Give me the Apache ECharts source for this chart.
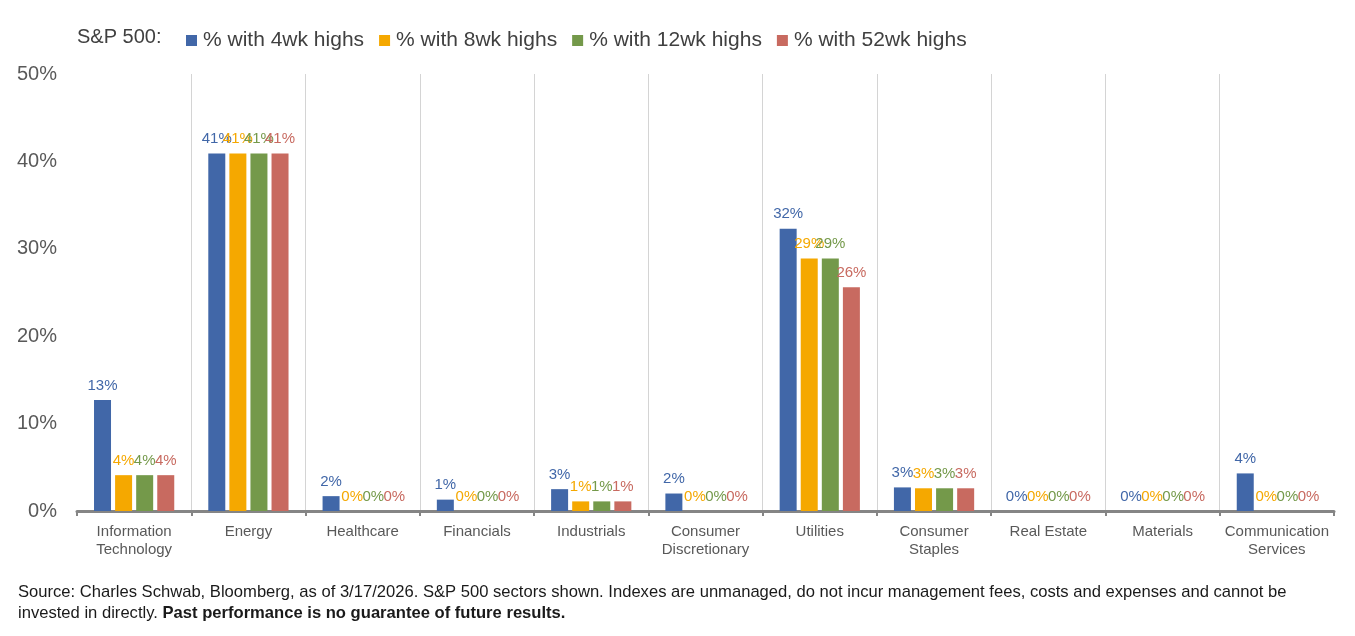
<!DOCTYPE html>
<html>
<head>
<meta charset="utf-8">
<title>S&P 500 sector highs</title>
<script src="https://cdn.jsdelivr.net/npm/echarts@6/dist/echarts.min.js"></script>
<style>
  html, body { margin: 0; padding: 0; background: #fff; }
  #main { width: 1355px; height: 636px; }
</style>
</head>
<body>
<div id="main"></div>
<script>
// sectors on the x axis
var sectors = ['Information\nTechnology', 'Energy', 'Healthcare', 'Financials', 'Industrials',
  'Consumer\nDiscretionary', 'Utilities', 'Consumer\nStaples', 'Real Estate', 'Materials',
  'Communication\nServices'];

// % of members at new highs
var highs4wk  = [12.7, 40.9, 1.7, 1.3, 2.5, 2.0, 32.3, 2.7, 0, 0, 4.3];
var highs8wk  = [4.1, 40.9, 0, 0, 1.1, 0, 28.9, 2.6, 0, 0, 0];
var highs12wk = [4.1, 40.9, 0, 0, 1.1, 0, 28.9, 2.6, 0, 0, 0];
var highs52wk = [4.1, 40.9, 0, 0, 1.1, 0, 25.6, 2.6, 0, 0, 0];

var seriesNames = ['% with 4wk highs', '% with 8wk highs', '% with 12wk highs', '% with 52wk highs'];
var colors = ['#4167a8', '#f5a800', '#74994a', '#c86a60'];

var chart = echarts.init(document.getElementById('main'));

function makeSeries(name, data, color) {
  return {
    name: name,
    type: 'bar',
    data: data,
    barWidth: 17,
    barGap: '24%',
    itemStyle: { color: color },
    label: {
      show: true,
      position: 'top',
      distance: 7,
      color: color,
      fontSize: 15,
      fontFamily: 'Liberation Sans',
      formatter: function (p) { return Math.round(p.value) + '%'; }
    }
  };
}

chart.setOption({
  animation: false,
  color: colors,
  textStyle: { fontFamily: 'Liberation Sans' },
  grid: { left: 77, right: 21, top: 74, bottom: 125, containLabel: false },
  legend: {
    data: seriesNames,
    left: 181,
    top: 25,
    icon: 'rect',
    itemWidth: 11,
    itemHeight: 11,
    itemGap: 15,
    textStyle: { fontSize: 21, color: '#404040', padding: [0, 0, 0, 1] }
  },
  graphic: [
    { type: 'text', left: 77, top: 27, style: { text: 'S&P 500:', fontSize: 20, fill: '#404040', fontFamily: 'Liberation Sans' } },
    {
      type: 'text', left: 18, top: 582,
      style: {
        text: 'Source: Charles Schwab, Bloomberg, as of 3/17/2026. S&P 500 sectors shown. Indexes are unmanaged, do not incur management fees, costs and expenses and cannot be\ninvested in directly. {b|Past performance is no guarantee of future results.}',
        fontSize: 16.6, lineHeight: 21, fill: '#1a1a1a', fontFamily: 'Liberation Sans',
        rich: { b: { fontWeight: 'bold', fontSize: 16.6, fill: '#1a1a1a', fontFamily: 'Liberation Sans' } }
      }
    }
  ],
  xAxis: {
    type: 'category',
    data: sectors,
    axisLine: { lineStyle: { color: '#858585', width: 3 } },
    axisTick: { show: true, length: 5, lineStyle: { color: '#858585', width: 2 } },
    axisLabel: { color: '#595959', fontSize: 15, lineHeight: 18, margin: 12, interval: 0 },
    splitLine: { show: true, showMinLine: false, showMaxLine: false, lineStyle: { color: '#d4d4d4', width: 1 } }
  },
  yAxis: {
    type: 'value',
    min: 0,
    max: 50,
    interval: 10,
    axisLine: { show: false },
    axisTick: { show: false },
    splitLine: { show: false },
    axisLabel: { color: '#595959', fontSize: 20, margin: 20, formatter: '{value}%' }
  },
  series: [
    makeSeries(seriesNames[0], highs4wk, colors[0]),
    makeSeries(seriesNames[1], highs8wk, colors[1]),
    makeSeries(seriesNames[2], highs12wk, colors[2]),
    makeSeries(seriesNames[3], highs52wk, colors[3])
  ]
});
</script>
</body>
</html>
